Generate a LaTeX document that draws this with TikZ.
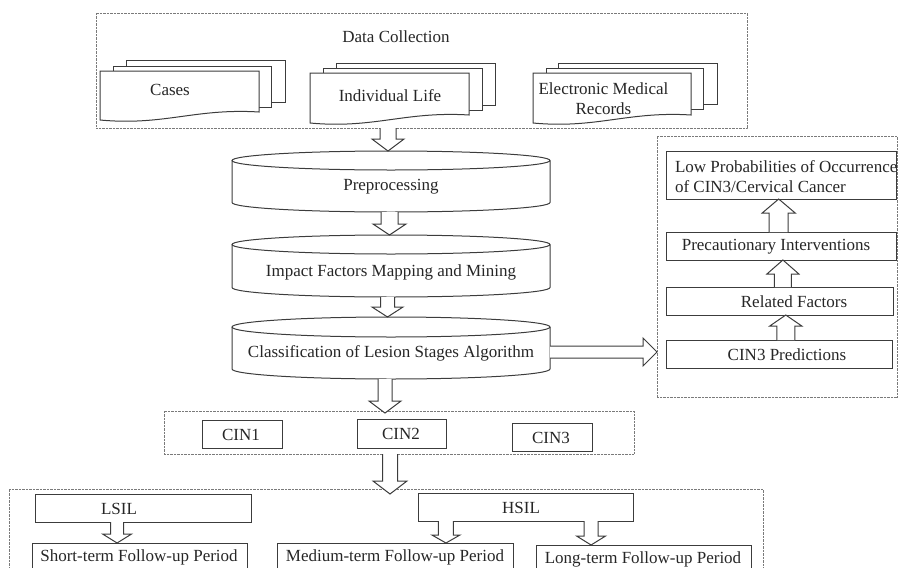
\documentclass[tikz,border=0pt]{standalone}
\usepackage{fontspec}
\setmainfont{Liberation Serif}
\usetikzlibrary{calc}
\definecolor{ln}{HTML}{3C3C3C}
\definecolor{tx}{HTML}{262626}
\definecolor{dt}{HTML}{7A7A7A}
\tikzset{
  shp/.style={draw=ln, line width=1pt},
  blk/.style={draw=ln, line width=1pt, fill=white, line join=miter},
  dotbox/.style={draw=dt, line width=0.9pt, dash pattern=on 0.7pt off 0.7pt, inner sep=0pt, outer sep=0pt},
  txt/.style={text=tx, font=\fontsize{17}{20}\selectfont, inner sep=0pt, outer sep=0pt},
  rbox/.style={shp, inner sep=0pt, outer sep=0pt},
  ghost/.style={inner sep=0pt, outer sep=0pt},
}
% block arrows: #1 start, #2 end, #3 shaft half width, #4 head half width, #5 head length
\newcommand\ArrDown[5]{%
  \draw[blk] let \p1=(#1), \p2=(#2) in
    (\x1-#3pt,\y1) -- (\x1-#3pt,\y2+#5pt) -- (\x1-#4pt,\y2+#5pt) -- (\x1,\y2)
    -- (\x1+#4pt,\y2+#5pt) -- (\x1+#3pt,\y2+#5pt) -- (\x1+#3pt,\y1);}
\newcommand\ArrUp[5]{%
  \draw[blk] let \p1=(#1), \p2=(#2) in
    (\x1-#3pt,\y1) -- (\x1-#3pt,\y2-#5pt) -- (\x1-#4pt,\y2-#5pt) -- (\x1,\y2)
    -- (\x1+#4pt,\y2-#5pt) -- (\x1+#3pt,\y2-#5pt) -- (\x1+#3pt,\y1);}
\newcommand\ArrRight[5]{%
  \draw[blk] let \p1=(#1), \p2=(#2) in
    (\x1,\y1+#3pt) -- (\x2-#5pt,\y1+#3pt) -- (\x2-#5pt,\y1+#4pt) -- (\x2,\y1)
    -- (\x2-#5pt,\y1-#4pt) -- (\x2-#5pt,\y1-#3pt) -- (\x1,\y1-#3pt);}
% cylinder outline around node #1, ellipse half height #2, half width #3
\newcommand\CylDraw[3]{%
  \draw[shp] let \p1=(#1.north west), \p2=(#1.south east) in
    (\x1,\y1-#2pt) -- (\x1,\y2+#2pt) arc[start angle=180, end angle=360, x radius=#3pt, y radius=#2pt]
    -- (\x2,\y1-#2pt);
  \draw[shp] ($(#1.north)+(0,-#2)$) ellipse[x radius=#3pt, y radius=#2pt];}
% document page with wavy bottom: x0, x1, top, left bottom, right bottom
\newcommand\DocPage[5]{%
  \draw[shp, fill=white] (#1,-#3) -- (#2,-#3) -- (#2,-#5)
    .. controls ({#2-0.4*(#2-#1)},{-#5+4}) and ({#1+0.4*(#2-#1)},{-#4-6}) .. (#1,-#4) -- cycle;}
\begin{document}
\begin{tikzpicture}[x=1pt, y=1pt]
\useasboundingbox (0,0) rectangle (898,-568);

% ---------- Data collection ----------
\node[dotbox, minimum width=651pt, minimum height=115pt] (dc) at (421.5,-70.5) {};
\node[txt] (dct) at (396,-37) {Data Collection};

\draw[shp, fill=white] (126,-60) rectangle (285,-102);
\draw[shp, fill=white] (113,-66) rectangle (271,-107);
\DocPage{100}{259}{71}{120}{112}
\node[txt] (cases) at (170,-90) {Cases};

\draw[shp, fill=white] (336,-63) rectangle (495,-105);
\draw[shp, fill=white] (323,-68) rectangle (482,-110);
\DocPage{310}{469}{73}{123}{115}
\node[txt] (il) at (390,-96) {Individual Life};

\draw[shp, fill=white] (558,-63) rectangle (717,-104);
\draw[shp, fill=white] (546,-68) rectangle (703,-109);
\DocPage{533}{691}{73}{123}{115}
\node[txt, align=center] (emr) at (603.5,-99) {Electronic Medical\\Records};

% ---------- Cylinders ----------
\node[ghost, minimum width=318pt, minimum height=61pt] (pre) at (391,-181.5) {};
\CylDraw{pre}{9.5}{159}
\node[txt] (preT) at (391,-187) {Preprocessing};

\node[ghost, minimum width=318pt, minimum height=62pt] (imp) at (391,-266) {};
\CylDraw{imp}{9.5}{159}
\node[txt] (impT) at (391,-272) {Impact Factors Mapping and Mining};

\node[ghost, minimum width=318pt, minimum height=62pt] (cls) at (391,-348) {};
\CylDraw{cls}{10}{159}
\node[txt] (clsT) at (391,-353) {Classification of Lesion Stages Algorithm};

% ---------- CIN stages ----------
\node[dotbox, minimum width=470pt, minimum height=43pt] (cinbox) at (399,-432.5) {};
\node[rbox, minimum width=80pt, minimum height=28pt] (cin1) at (242,-434) {};
\node[txt] (cin1T) at (241,-435) {CIN1};
\node[rbox, minimum width=89pt, minimum height=29pt] (cin2) at (401.5,-433.5) {};
\node[txt] (cin2T) at (401,-434) {CIN2};
\node[rbox, minimum width=80pt, minimum height=28pt] (cin3) at (552,-437) {};
\node[txt] (cin3T) at (551,-438) {CIN3};

% ---------- Follow-up ----------
\node[dotbox, minimum width=754pt, minimum height=90pt] (fu) at (386,-534) {};
\node[rbox, minimum width=216pt, minimum height=28pt] (lsil) at (143,-508) {};
\node[txt] (lsilT) at (119,-509) {LSIL};
\node[rbox, minimum width=215pt, minimum height=28pt] (hsil) at (525.5,-507) {};
\node[txt] (hsilT) at (521,-508) {HSIL};
\node[rbox, minimum width=215pt, minimum height=40pt] (short) at (139.5,-563) {};
\node[txt] (shortT) at (139,-557) {Short-term Follow-up Period};
\node[rbox, minimum width=236pt, minimum height=40pt] (med) at (395,-563) {};
\node[txt] (medT) at (395,-557) {Medium-term Follow-up Period};
\node[rbox, minimum width=215pt, minimum height=40pt] (long) at (643.5,-565) {};
\node[txt] (longT) at (643,-559) {Long-term Follow-up Period};

% ---------- Right panel ----------
\node[dotbox, minimum width=240pt, minimum height=261pt] (rp) at (777,-266.5) {};
\node[rbox, minimum width=230pt, minimum height=48pt] (low) at (781,-175) {};
\node[txt, anchor=west, align=left] (lowT) at (675,-177) {Low Probabilities of Occurrence\\of CIN3/Cervical Cancer};
\node[rbox, minimum width=230pt, minimum height=28pt] (prec) at (781,-246) {};
\node[txt] (precT) at (776,-247) {Precautionary Interventions};
\node[rbox, minimum width=227pt, minimum height=28pt] (rel) at (779.5,-301) {};
\node[txt] (relT) at (794,-302) {Related Factors};
\node[rbox, minimum width=226pt, minimum height=28pt] (pred) at (779,-354) {};
\node[txt] (predT) at (787,-355) {CIN3 Predictions};

% ---------- Block arrows ----------
\ArrDown{$(dc.south -| pre.north)+(-3,0)$}{pre.north}{8}{16}{12}
\ArrDown{$(pre.south)+(-1.5,0)$}{imp.north}{8.5}{16.5}{11}
\ArrDown{$(imp.south)+(-3.5,0)$}{cls.north}{7}{15.5}{10}
\ArrDown{$(cls.south)+(-6,0)$}{$(cinbox.north)+(0,-2)$}{7}{16}{12}
\ArrDown{$(cinbox.south -| cls.south)+(-1,0)$}{$(fu.north)+(0,-5)$}{7.5}{17}{13}
\ArrRight{$(cls.east)+(0,-4)$}{rp.west}{6}{14}{14}
\ArrUp{$(prec.north west)!0.49!(prec.north east)$}{low.south}{9.5}{16.5}{14}
\ArrUp{$(rel.north west)!0.515!(rel.north east)$}{prec.south}{8.5}{16}{14}
\ArrUp{$(pred.north west)!0.53!(pred.north east)$}{rel.south}{9}{16}{11}
\ArrDown{$(lsil.south west)!0.38!(lsil.south east)$}{short.north}{6.5}{14.5}{9}
\ArrDown{$(hsil.south west)!0.13!(hsil.south east)$}{med.north}{7.5}{14}{8}
\ArrDown{$(hsil.south west)!0.805!(hsil.south east)$}{long.north}{7}{14.5}{9}
\end{tikzpicture}
\end{document}
